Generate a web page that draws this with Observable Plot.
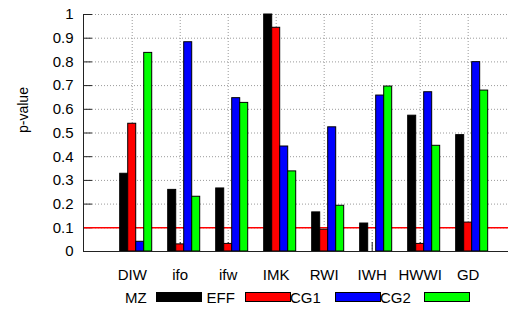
<!DOCTYPE html>
<html><head><meta charset="utf-8">
<script src="https://cdn.jsdelivr.net/npm/d3@7"></script>
<script src="https://cdn.jsdelivr.net/npm/@observablehq/plot@0.6"></script>
<style>
body{margin:0;background:#fff;font-family:"Liberation Sans",Arial,sans-serif;}
#wrap{position:relative;width:508px;height:312px;overflow:hidden;}
.lt{position:absolute;font-size:15px;line-height:15px;color:#000;white-space:nowrap;}
.sw{position:absolute;width:44px;height:8px;border:1px solid #000;}
</style></head><body><div id="wrap"></div>
<script>
const categories = ["DIW","ifo","ifw","IMK","RWI","IWH","HWWI","GD"];
const series = ["MZ","EFF","CG1","CG2"];
const colors = ["#000000","#ff0000","#0000ff","#00ff00"];
const MZ  = [0.328,0.260,0.266,1.000,0.165,0.118,0.573,0.491];
const EFF = [0.539,0.030,0.032,0.944,0.092,0.000,0.032,0.122];
const CG1 = [0.041,0.883,0.647,0.443,0.524,0.658,0.672,0.799];
const CG2 = [0.838,0.231,0.627,0.338,0.193,0.696,0.446,0.679];
const yTicks = [0,0.1,0.2,0.3,0.4,0.5,0.6,0.7,0.8,0.9,1];
const threshold = 0.1;

const values = [MZ, EFF, CG1, CG2];
const rows = [];
categories.forEach((c, ci) => series.forEach((s, si) => rows.push({cat: c, ci, s, si, v: values[si][ci]})));

const xmin = -1.015, xmax = 7.84;
const barW = 1/6;
const idx = d3.range(categories.length);

const plot = Plot.plot({
  width: 508, height: 312,
  marginLeft: 83, marginRight: 0, marginTop: 14, marginBottom: 61,
  style: {fontFamily: '"Liberation Sans", Arial, sans-serif', fontSize: "15px", background: "#fff"},
  x: {type: "linear", domain: [xmin, xmax], axis: null},
  y: {domain: [0, 1], axis: null},
  color: {domain: series, range: colors},
  marks: [
    Plot.gridY(yTicks.slice(1), {stroke: "#9a9a9a", strokeOpacity: 1, strokeDasharray: "1,2"}),
    Plot.gridX(idx, {stroke: "#9a9a9a", strokeOpacity: 1, strokeDasharray: "1,2"}),
    Plot.ruleY(yTicks, {x1: xmin, x2: xmin + 9/48, stroke: "#222"}),
    Plot.ruleX(idx, {y1: 0, y2: 9/237, stroke: "#222"}),
    Plot.ruleY([threshold], {stroke: "#ff0000", strokeWidth: 1.6}),
    Plot.rectY(rows, {
      x1: d => d.ci + (d.si - 1) * barW - barW/2,
      x2: d => d.ci + (d.si - 1) * barW + barW/2,
      y: "v", fill: "s", stroke: "#000", strokeWidth: 1
    }),
    Plot.ruleX([xmin], {stroke: "#222"}),
    Plot.ruleY([0], {stroke: "#222"}),
    Plot.axisY({ticks: yTicks, tickFormat: d => String(d), tickSize: 0, tickPadding: 10, fontSize: 15, label: null}),
    Plot.axisX({ticks: idx, tickFormat: i => categories[i], tickSize: 0, tickPadding: 18, fontSize: 15, label: null}),
    Plot.text(["p-value"], {frameAnchor: "left", rotate: -90, dx: -60, fontSize: 14})
  ]
});
const wrap = document.getElementById("wrap");
wrap.appendChild(plot);

// legend: label then swatch (gnuplot style)
const textLeft = [125, 206.5, 290, 380];
const swLeft = [156, 245, 335, 424];
series.forEach((s, i) => {
  const t = document.createElement("div");
  t.className = "lt"; t.textContent = s;
  t.style.left = textLeft[i] + "px"; t.style.top = "290px";
  wrap.appendChild(t);
  const w = document.createElement("div");
  w.className = "sw"; w.style.background = colors[i];
  w.style.left = swLeft[i] + "px"; w.style.top = "292px";
  wrap.appendChild(w);
});
</script></body></html>
